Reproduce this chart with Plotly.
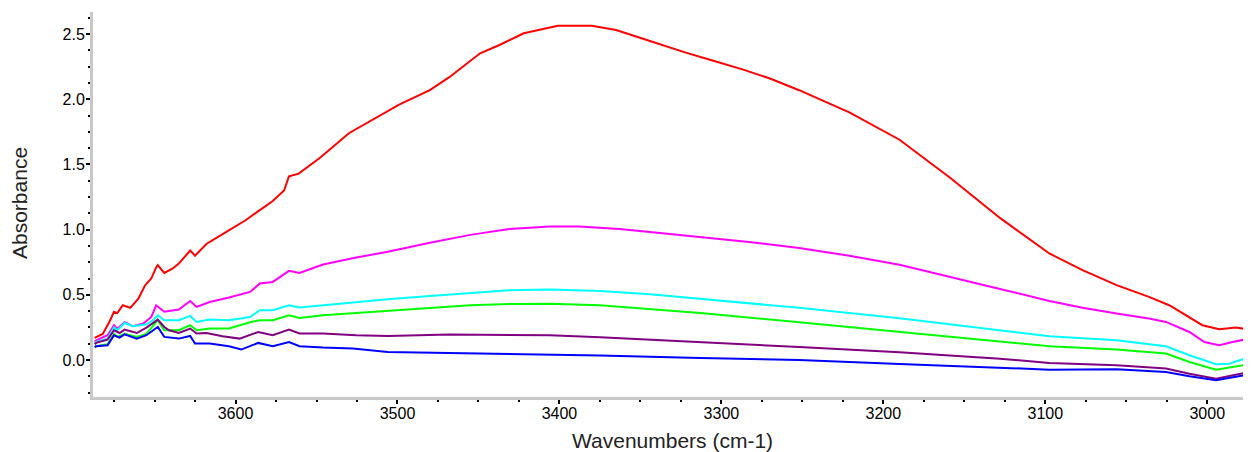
import plotly.graph_objects as go

# ---- data (wavenumber cm-1, absorbance) ----
red_w = [3687, 3686, 3682, 3678, 3675, 3673, 3669.6, 3665, 3660, 3656, 3652, 3649, 3648, 3644, 3639,
         3635, 3628, 3625, 3618, 3608, 3602, 3594, 3585, 3577, 3570, 3567, 3561, 3548, 3530, 3499,
         3480, 3468, 3449, 3437, 3422, 3404, 3401, 3380, 3365, 3346, 3322, 3306, 3287, 3270, 3252,
         3221, 3190, 3159, 3128, 3097.5, 3077, 3056, 3036, 3023.5, 3011, 3003, 2992.6, 2982.3, 2974]
red_a = [0.17, 0.177, 0.20, 0.29, 0.37, 0.36, 0.42, 0.40, 0.47, 0.57, 0.625, 0.71, 0.727, 0.668, 0.70,
         0.74, 0.84, 0.80, 0.89, 0.965, 1.01, 1.07, 1.15, 1.22, 1.30, 1.41, 1.43, 1.55, 1.74, 1.96,
         2.07, 2.17, 2.353, 2.417, 2.507, 2.553, 2.565, 2.565, 2.532, 2.455, 2.358, 2.30, 2.23, 2.16, 2.07,
         1.90, 1.69, 1.40, 1.09, 0.817, 0.689, 0.574, 0.484, 0.42, 0.33, 0.267, 0.236, 0.249, 0.233]

mag_w = [3687, 3686, 3679, 3675, 3673, 3668.5, 3663.4, 3657, 3652, 3649, 3644, 3635, 3628, 3624, 3616,
         3604, 3591, 3585, 3577, 3567, 3560.5, 3546, 3525.5, 3506, 3480, 3455, 3431, 3406, 3388, 3363,
         3338, 3313, 3283, 3252, 3221, 3190, 3159, 3128, 3097.5, 3077, 3056, 3036, 3025.5, 3011, 3001.8,
         2992.6, 2984.4, 2974]
mag_a = [0.14, 0.151, 0.19, 0.267, 0.24, 0.29, 0.26, 0.28, 0.33, 0.42, 0.37, 0.387, 0.453, 0.407, 0.445,
         0.479, 0.522, 0.587, 0.599, 0.684, 0.668, 0.733, 0.786, 0.83, 0.90, 0.96, 1.005, 1.025, 1.025, 1.005,
         0.975, 0.945, 0.905, 0.86, 0.80, 0.73, 0.64, 0.545, 0.453, 0.40, 0.356, 0.318, 0.292, 0.215, 0.138,
         0.113, 0.138, 0.164]

cyan_w = [3687, 3686, 3679, 3675, 3673, 3668.5, 3663.4, 3655, 3651, 3648, 3644, 3635, 3628, 3624, 3616,
          3604, 3591, 3585, 3577, 3567, 3560.5, 3546, 3525.5, 3506, 3480, 3455, 3431, 3406, 3375, 3344,
          3313, 3252, 3190, 3128, 3097.5, 3056, 3025.5, 3011, 2994.6, 2986.4, 2974]
cyan_a = [0.13, 0.138, 0.164, 0.25, 0.228, 0.284, 0.259, 0.274, 0.305, 0.343, 0.305, 0.305, 0.338, 0.292, 0.31,
          0.305, 0.33, 0.382, 0.382, 0.42, 0.402, 0.42, 0.445, 0.466, 0.49, 0.515, 0.535, 0.54, 0.53, 0.505,
          0.47, 0.40, 0.32, 0.225, 0.182, 0.151, 0.105, 0.036, -0.033, -0.028, 0.023]

green_w = [3687, 3686, 3679, 3675, 3673, 3668.5, 3661, 3655, 3648, 3644, 3635, 3628, 3624, 3616, 3604,
           3591, 3585, 3577, 3567, 3560.5, 3546, 3525.5, 3506, 3480, 3455, 3431, 3406, 3375, 3344, 3313,
           3252, 3190, 3128, 3097.5, 3056, 3025.5, 3011, 2994.6, 2974]
green_a = [0.10, 0.105, 0.12, 0.20, 0.177, 0.20, 0.177, 0.20, 0.305, 0.228, 0.228, 0.267, 0.228, 0.241, 0.241,
           0.29, 0.305, 0.305, 0.343, 0.323, 0.343, 0.361, 0.376, 0.40, 0.42, 0.43, 0.432, 0.42, 0.39, 0.36,
           0.29, 0.215, 0.14, 0.105, 0.08, 0.049, -0.015, -0.074, -0.033]

purple_w = [3687, 3686, 3679, 3675, 3671.6, 3668.5, 3661, 3655, 3648, 3644, 3641, 3635, 3628, 3624, 3618,
            3608, 3597.5, 3586, 3577, 3567, 3560.5, 3546, 3525.5, 3506, 3468, 3437, 3406, 3375, 3313, 3252,
            3190, 3128, 3097.5, 3056, 3025.5, 3011, 2994.6, 2974]
purple_a = [0.12, 0.131, 0.157, 0.228, 0.207, 0.233, 0.207, 0.249, 0.31, 0.253, 0.228, 0.207, 0.241, 0.203, 0.207,
            0.182, 0.164, 0.215, 0.19, 0.233, 0.203, 0.203, 0.19, 0.184, 0.195, 0.195, 0.19, 0.175, 0.14, 0.10,
            0.06, 0.01, -0.023, -0.041, -0.066, -0.105, -0.143, -0.092]

blue_w = [3687, 3686, 3679, 3675, 3671.6, 3668.5, 3661, 3655, 3648, 3644, 3635, 3628, 3625, 3616, 3604,
          3596.5, 3586, 3577, 3567, 3560.5, 3546, 3527.6, 3506, 3468, 3437, 3406, 3375, 3313, 3252, 3190,
          3128, 3097.5, 3056, 3025.5, 3011, 2994.6, 2974]
blue_a = [0.10, 0.105, 0.113, 0.19, 0.172, 0.197, 0.164, 0.19, 0.253, 0.177, 0.164, 0.184, 0.126, 0.126, 0.105,
          0.08, 0.131, 0.105, 0.138, 0.105, 0.095, 0.088, 0.061, 0.055, 0.05, 0.04, 0.035, 0.015, 0.0, -0.03,
          -0.06, -0.074, -0.071, -0.092, -0.125, -0.156, -0.11]

x_ticks = [3600, 3500, 3400, 3300, 3200, 3100, 3000]
y_ticks = [0.0, 0.5, 1.0, 1.5, 2.0, 2.5]

series = [
    (red_w, red_a, "#ff0000"),
    (mag_w, mag_a, "#ff00ff"),
    (cyan_w, cyan_a, "#00ffff"),
    (green_w, green_a, "#00ff00"),
    (purple_w, purple_a, "#800080"),
    (blue_w, blue_a, "#0000ff"),
]

fig = go.Figure()
for w, a, c in series:
    fig.add_trace(go.Scatter(x=w, y=a, mode="lines", line=dict(color=c, width=2),
                             showlegend=False, hoverinfo="skip"))

font = "Liberation Sans, Arial, sans-serif"
axis_common = dict(
    showline=True, linecolor="#c8c8c8", linewidth=3, showgrid=False, zeroline=False,
    ticks="outside", ticklen=4, tickwidth=2, tickcolor="#000000",
    tickfont=dict(family=font, size=16, color="#000000"),
    mirror=False,
)
fig.update_xaxes(range=[3688, 2973], tickvals=x_ticks, ticktext=[str(t) for t in x_ticks],
                 minor=dict(dtick=25, tick0=3600, ticks="outside", ticklen=2, tickwidth=2, tickcolor="#000000"),
                 ticklabelstandoff=-4, **axis_common)
fig.update_yaxes(range=[-0.284, 2.67], tickvals=y_ticks, ticktext=[f"{t:.1f}" for t in y_ticks],
                 minor=dict(dtick=0.125, tick0=0, ticks="outside", ticklen=2, tickwidth=2, tickcolor="#000000"),
                 ticklabelstandoff=-2, **axis_common)

fig.add_annotation(text="Wavenumbers (cm-1)", xref="paper", yref="paper", x=0.5, y=-0.112,
                   xanchor="center", yanchor="middle", showarrow=False,
                   font=dict(family=font, size=21, color="#222222"))
fig.add_annotation(text="Absorbance", xref="paper", yref="paper", x=-0.063, y=0.504,
                   xanchor="center", yanchor="middle", showarrow=False, textangle=-90,
                   font=dict(family=font, size=21, color="#222222"))

# page body has an 8px default margin, so the figure is 8px smaller than the window
fig.update_layout(width=1243, height=444, margin=dict(l=85, r=0, t=4, b=55),
                  paper_bgcolor="white", plot_bgcolor="white")
fig.write_html("out.html")
